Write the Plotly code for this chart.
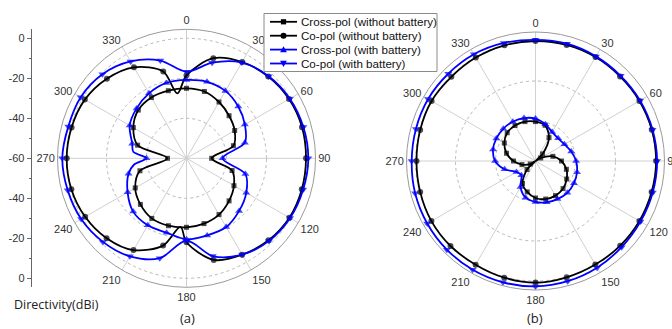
import plotly.graph_objects as go

# ---------------- data (dB) ----------------
# (a) left plot
a_co_nobat_theta = [0, 15, 30, 45, 60, 75, 90, 105, 120, 135, 150, 165, 180, 185, 195, 210, 225, 240, 255, 270, 285, 300, 315, 330, 345, 352, 360]
a_co_nobat_r = [-18.5, -8.2, -4.4, -2.2, -0.8, -0.2, -0.25, -0.3, -0.6, -2.0, -4.35, -7.4, -18.0, -25.6, -14.8, -7.0, -3.5, -1.5, -0.4, -0.1, -0.5, -1.3, -3.7, -7.45, -15.1, -27.2, -18.5]

a_co_bat_theta = [0, 15, 30, 45, 60, 75, 90, 105, 120, 135, 150, 165, 180, 195, 210, 225, 240, 255, 270, 285, 300, 315, 330, 345, 360]
a_co_bat_r = [-16.7, -10.5, -4.7, -1.95, -0.35, 0.5, 0.9, 0.4, -0.2, -1.6, -4.4, -9.4, -18.8, -8.3, -3.4, -0.9, 0.8, 1.5, 2.1, 1.2, 1.1, -0.55, -4.05, -9.4, -16.7]

a_cross_nobat_theta = [0, 15, 30, 45, 60, 75, 90, 105, 120, 135, 150, 165, 180, 195, 210, 225, 240, 255, 270, 285, 300, 315, 330, 345, 360]
a_cross_nobat_r = [-25, -25.4, -27.5, -29.9, -32.2, -35.7, -47.4, -36.4, -32.6, -29.9, -27.5, -26.2, -25.5, -25.1, -25.3, -27.4, -30.4, -35.9, -50.5, -34.7, -29.3, -25.9, -24.9, -25, -25]

a_cross_bat_theta = [0, 15, 30, 45, 60, 75, 90, 105, 120, 135, 150, 165, 180, 195, 210, 225, 240, 255, 263, 270, 277, 285, 300, 315, 330, 345, 360]
a_cross_bat_r = [-20.8, -20.4, -21.1, -23.4, -26.3, -29.8, -42, -29.5, -25.5, -22.8, -20.3, -20.1, -19.5, -21.5, -21.3, -22.3, -26, -30, -33.5, -40, -33.2, -31.9, -27.2, -24.7, -22.5, -21, -20.8]

# (b) right plot
b_theta = [0, 15, 30, 45, 60, 75, 90, 105, 120, 135, 150, 165, 180, 195, 210, 225, 240, 255, 270, 285, 300, 315, 330, 345, 360]
b_co_nobat_r = [0.0, 0.1, 0.0, -0.2, 0.0, 0.2, 0.3, 0.1, 0.0, -0.1, -0.2, 0.2, 0.8, 0.4, -0.1, 0.1, 0.1, -0.3, -0.5, -0.3, 0.0, -0.5, -0.3, -0.1, 0.0]
b_co_bat_r = [0.6, 0.7, 0.4, 0.2, 0.4, 0.6, 0.8, 0.7, 0.6, 0.9, 1.6, 2.2, 2.7, 2.8, 2.8, 2.7, 2.5, 2.3, 1.9, 1.9, 2.0, 1.7, 1.6, 1.1, 0.6]

b_cross_nobat_theta = [0, 15, 30, 45, 50, 60, 75, 90, 105, 120, 135, 150, 165, 180, 195, 210, 225, 232, 240, 255, 270, 285, 300, 315, 330, 345, 360]
b_cross_nobat_r = [-40.3, -41.5, -46.5, -55, -60, -57, -51, -47, -44, -42, -40.5, -40, -40.3, -41.5, -44, -47, -54, -60, -57, -53, -49, -45, -42, -40, -39.5, -39.6, -40.3]

b_cross_bat_r = [-38.8, -41, -43.3, -44, -43.3, -41.5, -39.7, -38.5, -37.8, -37.5, -38, -38.6, -39.5, -41, -45, -50, -49, -44, -39.8, -38, -37.4, -37.2, -37.3, -37.8, -38.8]

names = ["Cross-pol (without battery)", "Co-pol (without battery)",
         "Cross-pol (with battery)", "Co-pol (with battery)"]
radial_ticks = [60, 40, 20, 0, -20, -40, -60]
radial_ticktext = ["0", "-20", "-40", "-60", "-40", "-20", "0"]
angle_ticks = ["0", "30", "60", "90", "120", "150", "180", "210", "240", "270", "300", "330"]

BLUE = "#0000ff"
BLACK = "#000000"
FONT = "Liberation Sans, Arial, sans-serif"
W, H = 672, 329

styles = [(BLACK, "square", 5), (BLACK, "circle", 6), (BLUE, "triangle-up", 7), (BLUE, "triangle-down", 7)]


def msizes(theta, size):
    return [size if (t % 15 == 0 and t < 360) else 0 for t in theta]


def add(fig, theta, r, idx, subplot):
    color, symbol, size = styles[idx]
    fig.add_trace(go.Scatterpolar(
        r=r, theta=theta, name=names[idx], subplot=subplot, showlegend=False,
        mode="lines+markers",
        line=dict(color=color, width=1.8, shape="spline", smoothing=0.9),
        marker=dict(symbol=symbol, size=msizes(theta, size), color=color, line=dict(width=0)),
    ))


fig = go.Figure()
add(fig, a_cross_nobat_theta, a_cross_nobat_r, 0, "polar")
add(fig, a_co_nobat_theta, a_co_nobat_r, 1, "polar")
add(fig, a_cross_bat_theta, a_cross_bat_r, 2, "polar")
add(fig, a_co_bat_theta, a_co_bat_r, 3, "polar")

add(fig, b_cross_nobat_theta, b_cross_nobat_r, 0, "polar2")
add(fig, b_theta, b_co_nobat_r, 1, "polar2")
add(fig, b_theta, b_cross_bat_r, 2, "polar2")
add(fig, b_theta, b_co_bat_r, 3, "polar2")

# invisible trace to anchor the stand-alone radial scale of (a)
fig.add_trace(go.Scatter(x=[0], y=[0], mode="markers", marker=dict(opacity=0),
                         showlegend=False, hoverinfo="skip", xaxis="x", yaxis="y"))


def px(x):
    return x / W


def py(y):
    return 1 - y / H


def polar_layout(cx, cy, rad):
    return dict(
        domain=dict(x=[(cx - rad) / W, (cx + rad) / W],
                    y=[(H - cy - rad) / H, (H - cy + rad) / H]),
        bgcolor="white",
        radialaxis=dict(range=[-60, 4.5], tickvals=[-40, -20, 0], showticklabels=False,
                        ticks="", showline=False, gridcolor="#b8b8b8", griddash="dot",
                        gridwidth=1),
        angularaxis=dict(rotation=90, direction="clockwise",
                         tickvals=[0, 30, 60, 90, 120, 150, 180, 210, 240, 270, 300, 330],
                         ticktext=angle_ticks, ticks="",
                         showline=True, linecolor="#9a9a9a", linewidth=1,
                         gridcolor="#d0d0d0", gridwidth=1,
                         tickfont=dict(family=FONT, size=11, color="#333333")),
    )


# ---- hand-built legend (compact, like the original) ----
shapes = [dict(type="rect", xref="paper", yref="paper",
               x0=px(264), x1=px(437), y0=py(13.5), y1=py(71.5),
               line=dict(color="#8a8a8a", width=1), fillcolor="white", layer="above")]
annotations = []
for i, name in enumerate(names):
    color, symbol, size = styles[i]
    yc = 21.8 + 13.9 * i
    shapes.append(dict(type="line", xref="paper", yref="paper",
                       x0=px(270), x1=px(297), y0=py(yc), y1=py(yc),
                       line=dict(color=color, width=1.8), layer="above"))
    cx = 283.5
    if symbol == "square":
        h = 2.6
        shapes.append(dict(type="rect", xref="paper", yref="paper",
                           x0=px(cx - h), x1=px(cx + h), y0=py(yc - h), y1=py(yc + h),
                           line=dict(width=0), fillcolor=color, layer="above"))
    elif symbol == "circle":
        h = 3.0
        shapes.append(dict(type="circle", xref="paper", yref="paper",
                           x0=px(cx - h), x1=px(cx + h), y0=py(yc - h), y1=py(yc + h),
                           line=dict(width=0), fillcolor=color, layer="above"))
    else:
        h = 3.4
        if symbol == "triangle-up":
            pts = [(cx - h, yc + h * 0.8), (cx + h, yc + h * 0.8), (cx, yc - h)]
        else:
            pts = [(cx - h, yc - h * 0.8), (cx + h, yc - h * 0.8), (cx, yc + h)]
        path = "M {} {} L {} {} L {} {} Z".format(px(pts[0][0]), py(pts[0][1]),
                                                  px(pts[1][0]), py(pts[1][1]),
                                                  px(pts[2][0]), py(pts[2][1]))
        shapes.append(dict(type="path", xref="paper", yref="paper", path=path,
                           line=dict(width=0), fillcolor=color, layer="above"))
    annotations.append(dict(text=name, x=px(298.5), y=py(yc), xref="paper", yref="paper",
                            xanchor="left", yanchor="middle", showarrow=False,
                            font=dict(family=FONT, size=11.6, color="#111111")))

annotations += [
    dict(text="Directivity(dBi)", x=px(12), y=py(304), xref="paper", yref="paper",
         xanchor="left", yanchor="middle", showarrow=False,
         font=dict(family="Open Sans, DejaVu Sans", size=12.5, color="#222222")),
    dict(text="(a)", x=px(187), y=py(318), xref="paper", yref="paper",
         xanchor="center", yanchor="middle", showarrow=False,
         font=dict(family="Open Sans, DejaVu Sans", size=13, color="#222222")),
    dict(text="(b)", x=px(535), y=py(318), xref="paper", yref="paper",
         xanchor="center", yanchor="middle", showarrow=False,
         font=dict(family="Open Sans, DejaVu Sans", size=13, color="#222222")),
]

fig.update_layout(
    width=W, height=H,
    margin=dict(l=0, r=0, t=0, b=0),
    paper_bgcolor="white", plot_bgcolor="white",
    showlegend=False,
    polar=polar_layout(186.5, 158.3, 129),
    polar2=polar_layout(535.5, 161, 129),
    xaxis=dict(domain=[31.7 / W, 40 / W], visible=False, range=[0, 1]),
    yaxis=dict(domain=[(H - 158.3 - 129) / H, (H - 158.3 + 129) / H],
               range=[-64.5, 64.5], tickvals=radial_ticks, ticktext=radial_ticktext,
               showline=True, linecolor="#666666", linewidth=1, ticks="outside",
               ticklen=4, tickcolor="#666666", showgrid=False, zeroline=False,
               minor=dict(tickvals=[50, 30, 10, -10, -30, -50], ticklen=2,
                          ticks="outside", tickcolor="#666666"),
               tickfont=dict(family=FONT, size=11, color="#333333"), anchor="x"),
    shapes=shapes,
    annotations=annotations,
)

fig.write_html("out.html")
